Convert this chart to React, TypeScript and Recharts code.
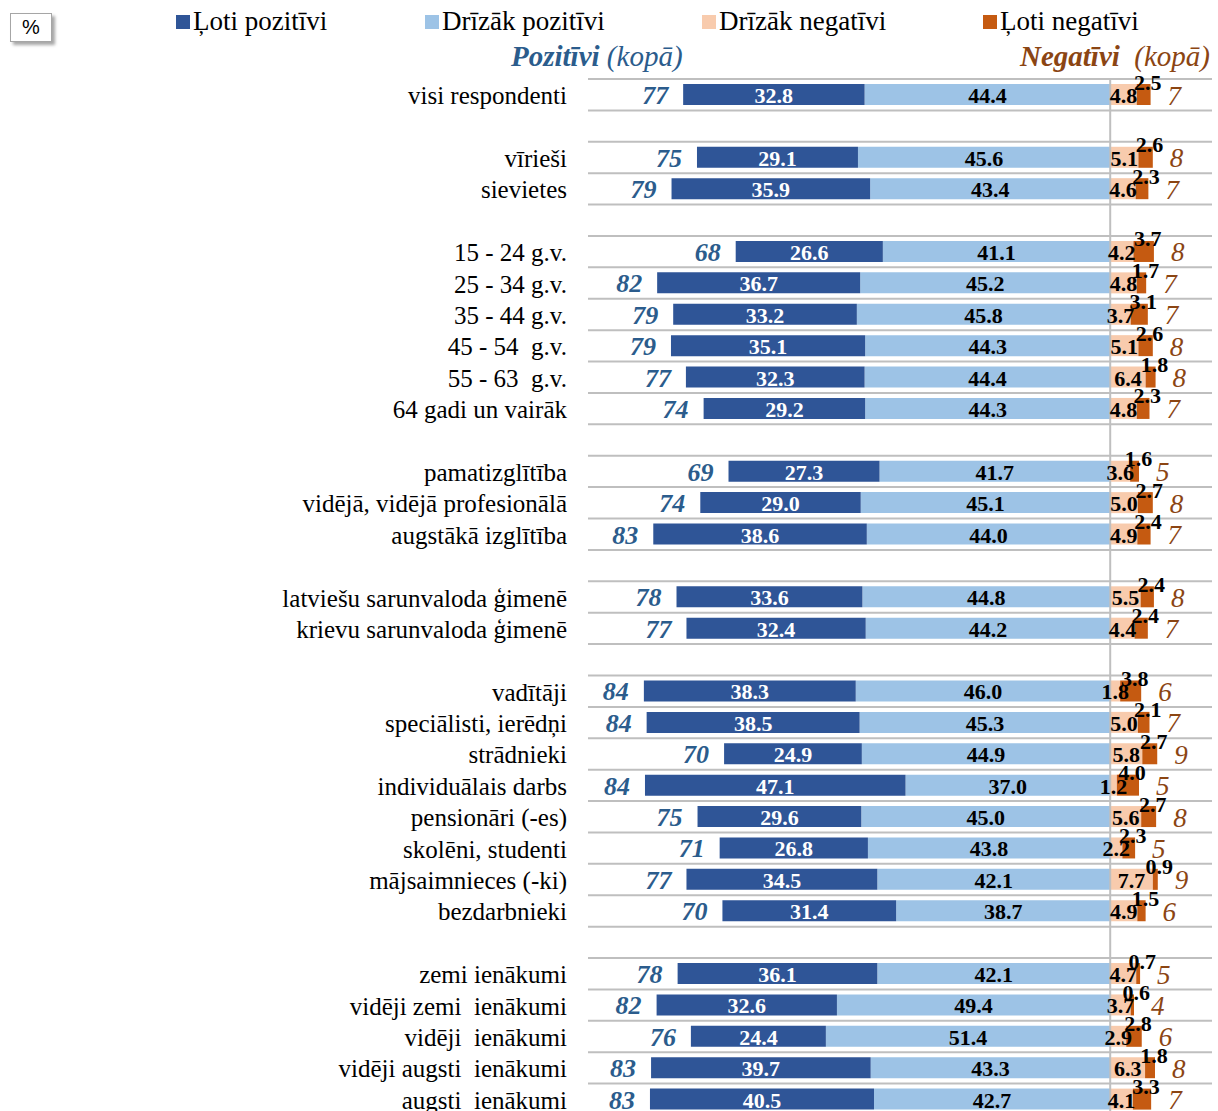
import React from "react";
import {
  BarChart,
  Bar,
  XAxis,
  YAxis,
  CartesianGrid,
  ReferenceLine,
  LabelList,
} from "recharts";

const CATEGORIES = [
  "visi respondenti",
  "",
  "vīrieši",
  "sievietes",
  "",
  "15 - 24 g.v.",
  "25 - 34 g.v.",
  "35 - 44 g.v.",
  "45 - 54  g.v.",
  "55 - 63  g.v.",
  "64 gadi un vairāk",
  "",
  "pamatizglītība",
  "vidējā, vidējā profesionālā",
  "augstākā izglītība",
  "",
  "latviešu sarunvaloda ģimenē",
  "krievu sarunvaloda ģimenē",
  "",
  "vadītāji",
  "speciālisti, ierēdņi",
  "strādnieki",
  "individuālais darbs",
  "pensionāri (-es)",
  "skolēni, studenti",
  "mājsaimnieces (-ki)",
  "bezdarbnieki",
  "",
  "zemi ienākumi",
  "vidēji zemi  ienākumi",
  "vidēji  ienākumi",
  "vidēji augsti  ienākumi",
  "augsti  ienākumi",
];

const VERY_POS = [32.8, null, 29.1, 35.9, null, 26.6, 36.7, 33.2, 35.1, 32.3, 29.2, null, 27.3, 29.0, 38.6, null, 33.6, 32.4, null, 38.3, 38.5, 24.9, 47.1, 29.6, 26.8, 34.5, 31.4, null, 36.1, 32.6, 24.4, 39.7, 40.5];
const RATHER_POS = [44.4, null, 45.6, 43.4, null, 41.1, 45.2, 45.8, 44.3, 44.4, 44.3, null, 41.7, 45.1, 44.0, null, 44.8, 44.2, null, 46.0, 45.3, 44.9, 37.0, 45.0, 43.8, 42.1, 38.7, null, 42.1, 49.4, 51.4, 43.3, 42.7];
const RATHER_NEG = [4.8, null, 5.1, 4.6, null, 4.2, 4.8, 3.7, 5.1, 6.4, 4.8, null, 3.6, 5.0, 4.9, null, 5.5, 4.4, null, 1.8, 5.0, 5.8, 1.2, 5.6, 2.2, 7.7, 4.9, null, 4.7, 3.7, 2.9, 6.3, 4.1];
const VERY_NEG = [2.5, null, 2.6, 2.3, null, 3.7, 1.7, 3.1, 2.6, 1.8, 2.3, null, 1.6, 2.7, 2.4, null, 2.4, 2.4, null, 3.8, 2.1, 2.7, 4.0, 2.7, 2.3, 0.9, 1.5, null, 0.7, 0.6, 2.8, 1.8, 3.3];
const TOTAL_POS = [77, null, 75, 79, null, 68, 82, 79, 79, 77, 74, null, 69, 74, 83, null, 78, 77, null, 84, 84, 70, 84, 75, 71, 77, 70, null, 78, 82, 76, 83, 83];
const TOTAL_NEG = [7, null, 8, 7, null, 8, 7, 7, 8, 8, 7, null, 5, 8, 7, null, 8, 7, null, 6, 7, 9, 5, 8, 5, 9, 6, null, 5, 4, 6, 8, 7];

const LEGEND = [
  { label: "Ļoti pozitīvi", color: "#2F5597", x: 176 },
  { label: "Drīzāk pozitīvi", color: "#9DC3E6", x: 425 },
  { label: "Drīzāk negatīvi", color: "#F8CBAD", x: 702 },
  { label: "Ļoti negatīvi", color: "#C55A11", x: 983 },
];

const SERIF = "'Liberation Serif', 'Times New Roman', serif";
const BLUE_TXT = "#2B5C8C";
const BROWN_TXT = "#8B4513";

const rows = CATEGORIES.map((name, i) => ({
  name,
  ratherPos: RATHER_POS[i] == null ? null : -RATHER_POS[i],
  veryPos: VERY_POS[i] == null ? null : -VERY_POS[i],
  ratherNeg: RATHER_NEG[i],
  veryNeg: VERY_NEG[i],
  totPos: TOTAL_POS[i],
  totNeg: TOTAL_NEG[i],
}));

// bars on the negative side can come with a negative width
function box(p: any) {
  const x = Number(p.x), w = Number(p.width);
  const left = Math.min(x, x + w);
  const right = Math.max(x, x + w);
  return { left, right, cy: Number(p.y) + Number(p.height) / 2, top: Number(p.y) };
}

const centerLabel = (fill: string) => (p: any) => {
  if (p.value == null) return null;
  const b = box(p);
  return (
    <text
      x={(b.left + b.right) / 2}
      y={b.cy + 1}
      textAnchor="middle"
      dominantBaseline="central"
      fontFamily={SERIF}
      fontWeight="bold"
      fontSize={22}
      fill={fill}
    >
      {Math.abs(p.value).toFixed(1)}
    </text>
  );
};

const veryNegLabel = (p: any) => {
  if (p.value == null) return null;
  const b = box(p);
  return (
    <text
      x={(b.left + b.right) / 2 + 4}
      y={b.top - 2}
      textAnchor="middle"
      dominantBaseline="central"
      fontFamily={SERIF}
      fontWeight="bold"
      fontSize={22}
      fill="#000"
    >
      {Number(p.value).toFixed(1)}
    </text>
  );
};

const totPosLabel = (p: any) => {
  if (p.value == null) return null;
  const b = box(p);
  return (
    <text
      x={b.left - 15}
      y={b.cy + 1}
      textAnchor="end"
      dominantBaseline="central"
      fontFamily={SERIF}
      fontWeight="bold"
      fontStyle="italic"
      fontSize={26}
      fill={BLUE_TXT}
    >
      {p.value}
    </text>
  );
};

const totNegLabel = (p: any) => {
  if (p.value == null) return null;
  const b = box(p);
  return (
    <text
      x={b.right + 17}
      y={b.cy + 1}
      textAnchor="start"
      dominantBaseline="central"
      fontFamily={SERIF}
      fontStyle="italic"
      fontSize={27}
      fill={BROWN_TXT}
    >
      {p.value}
    </text>
  );
};

function CategoryTick(props: any) {
  const { x, y, payload } = props;
  return (
    <text
      x={x}
      y={y + 1}
      textAnchor="end"
      dominantBaseline="central"
      fontFamily={SERIF}
      fontSize={25}
      fill="#000"
      style={{ whiteSpace: "pre" }}
    >
      {payload.value}
    </text>
  );
}

export default function App() {
  const n = CATEGORIES.length;
  return (
    <div
      style={{
        position: "absolute",
        left: 0,
        top: 0,
        width: 1218,
        height: 1111,
        overflow: "hidden",
        background: "#fff",
      }}
    >
      <BarChart
        width={1218}
        height={1115}
        data={rows}
        layout="vertical"
        stackOffset="sign"
        barSize={21}
        margin={{ top: 79, right: 6, bottom: 0, left: 0 }}
      >
        <CartesianGrid
          vertical={false}
          stroke="#BFBFBF"
          strokeWidth={2}
          horizontalCoordinatesGenerator={({ offset }: any) =>
            Array.from({ length: n + 1 }, (_, i) => offset.top + (i * offset.height) / n)
          }
        />
        <XAxis type="number" domain={[-94.4, 18.4]} hide allowDataOverflow />
        <YAxis
          type="category"
          dataKey="name"
          width={588}
          axisLine={false}
          tickLine={false}
          tickSize={0}
          tickMargin={21}
          interval={0}
          tick={<CategoryTick />}
        />
        <ReferenceLine x={0} stroke="#BFBFBF" strokeWidth={2} />
        <Bar dataKey="ratherPos" stackId="s" fill="#9DC3E6" isAnimationActive={false}>
          <LabelList dataKey="ratherPos" content={centerLabel("#000")} />
        </Bar>
        <Bar dataKey="veryPos" stackId="s" fill="#2F5597" isAnimationActive={false}>
          <LabelList dataKey="veryPos" content={centerLabel("#fff")} />
          <LabelList dataKey="totPos" content={totPosLabel} />
        </Bar>
        <Bar dataKey="ratherNeg" stackId="s" fill="#F8CBAD" isAnimationActive={false}>
          <LabelList dataKey="ratherNeg" content={centerLabel("#000")} />
        </Bar>
        <Bar dataKey="veryNeg" stackId="s" fill="#C55A11" isAnimationActive={false}>
          <LabelList dataKey="veryNeg" content={veryNegLabel} />
          <LabelList dataKey="totNeg" content={totNegLabel} />
        </Bar>
      </BarChart>

      <svg
        width={1218}
        height={80}
        style={{ position: "absolute", left: 0, top: 0, pointerEvents: "none" }}
      >
        {LEGEND.map((l) => (
          <g key={l.label}>
            <rect x={l.x} y={15} width={14} height={14} fill={l.color} />
            <text x={l.x + 17} y={30} fontFamily={SERIF} fontSize={27} fill="#000">
              {l.label}
            </text>
          </g>
        ))}
        <text x={511} y={66} fontFamily={SERIF} fontSize={29} fontStyle="italic" fill={BLUE_TXT} style={{ whiteSpace: "pre" }}>
          <tspan fontWeight="bold">Pozitīvi</tspan>
          <tspan> (kopā)</tspan>
        </text>
        <text x={1210} y={66} textAnchor="end" fontFamily={SERIF} fontSize={29} fontStyle="italic" fill={BROWN_TXT} style={{ whiteSpace: "pre" }}>
          <tspan fontWeight="bold">Negatīvi</tspan>
          <tspan>  (kopā)</tspan>
        </text>
      </svg>

      <div
        style={{
          position: "absolute",
          left: 10,
          top: 13,
          width: 40,
          height: 27,
          border: "1px solid #A6A6A6",
          background: "#fff",
          boxShadow: "3px 3px 3px rgba(0,0,0,0.35)",
          fontFamily: "'Liberation Sans', Arial, sans-serif",
          fontSize: 20,
          lineHeight: "27px",
          textAlign: "center",
          color: "#000",
        }}
      >
        %
      </div>
    </div>
  );
}
